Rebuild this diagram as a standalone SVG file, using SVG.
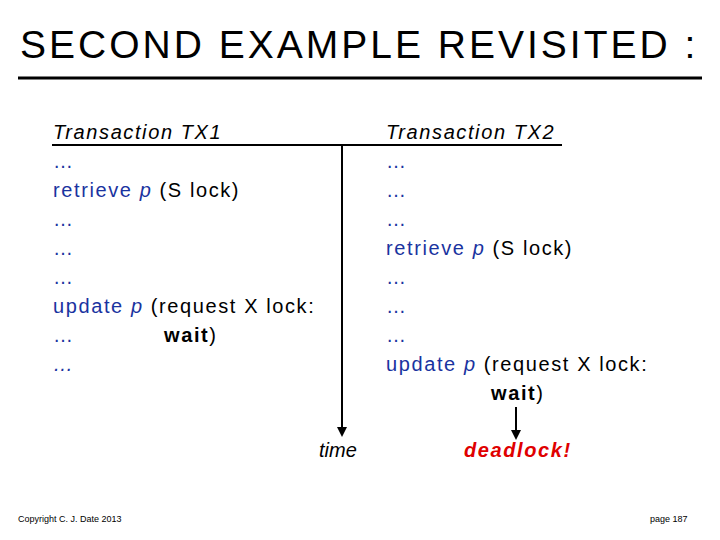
<svg xmlns="http://www.w3.org/2000/svg" width="720" height="540" viewBox="0 0 720 540">
<style>
text{font-family:"Liberation Sans",Arial,sans-serif;font-size:20px;fill:#000;letter-spacing:1.6px}
.b{fill:#1a33a0}
.i{font-style:italic}
.w{font-weight:bold}
.ln{stroke:#000;stroke-width:3;fill:none}
.f{font-size:9px;letter-spacing:0}
</style>
<defs><marker id="ah" markerWidth="10" markerHeight="10" refX="8" refY="5" orient="auto" markerUnits="userSpaceOnUse"><path d="M0,0 L10,5 L0,10 z" fill="#000"/></marker></defs>
<rect width="720" height="540" fill="#fff"/>
<text x="20" y="58" style="font-size:39px;letter-spacing:3px">SECOND EXAMPLE REVISITED :</text>
<g id="connectors">
<line class="ln" x1="18" y1="78" x2="702" y2="78"/>
<line class="ln" x1="52" y1="145" x2="562" y2="145" style="stroke-width:2"/>
<line class="ln" x1="342" y1="145" x2="342" y2="435" style="stroke-width:2" marker-end="url(#ah)"/>
<line class="ln" x1="516" y1="407" x2="516" y2="438" style="stroke-width:2" marker-end="url(#ah)"/>
</g>
<g id="tx1">
<text x="53" y="139" class="i">Transaction TX1</text>
<text x="53" y="168" class="b">…</text>
<text x="53" y="197"><tspan class="b">retrieve </tspan><tspan class="b i">p</tspan> (S lock)</text>
<text x="53" y="226" class="b">…</text>
<text x="53" y="255" class="b">…</text>
<text x="53" y="284" class="b">…</text>
<text x="53" y="313"><tspan class="b">update </tspan><tspan class="b i">p</tspan> (request X lock:</text>
<text x="53" y="342" class="b">…</text>
<text x="164" y="342"><tspan class="w">wait</tspan>)</text>
<text x="53" y="371" class="b i">…</text>
</g>
<g id="tx2">
<text x="386" y="139" class="i">Transaction TX2</text>
<text x="386" y="168" class="b">…</text>
<text x="386" y="197" class="b">…</text>
<text x="386" y="226" class="b">…</text>
<text x="386" y="255"><tspan class="b">retrieve </tspan><tspan class="b i">p</tspan> (S lock)</text>
<text x="386" y="284" class="b">…</text>
<text x="386" y="313" class="b">…</text>
<text x="386" y="342" class="b">…</text>
<text x="386" y="371"><tspan class="b">update </tspan><tspan class="b i">p</tspan> (request X lock:</text>
<text x="491" y="400"><tspan class="w">wait</tspan>)</text>
</g>
<g id="time"><text x="319" y="457" class="i" style="letter-spacing:0">time</text></g>
<g id="deadlock"><text x="464" y="457" class="i w" style="fill:#e00000">deadlock!</text></g>
<text x="18" y="522" class="f">Copyright C. J. Date 2013</text>
<text x="650" y="522" class="f">page 187</text>
</svg>
